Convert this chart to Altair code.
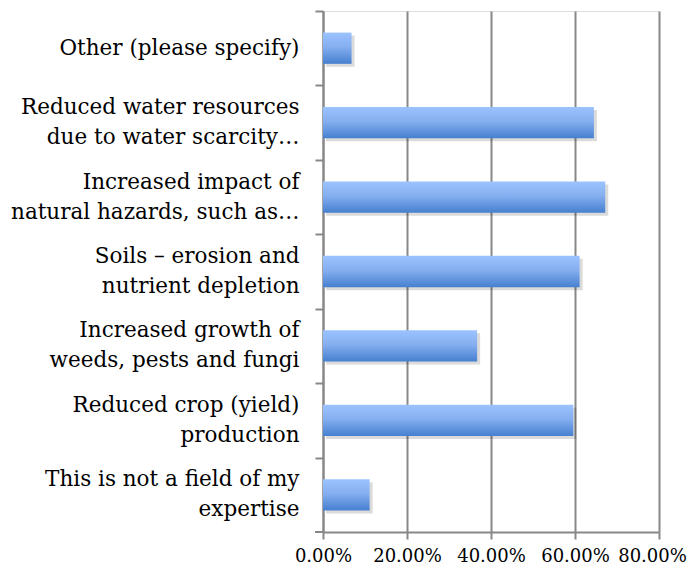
import altair as alt
import pandas as pd

categories = [
    "Other (please specify)",
    "Reduced water resources|due to water scarcity…",
    "Increased impact of|natural hazards, such as…",
    "Soils – erosion and|nutrient depletion",
    "Increased growth of|weeds, pests and fungi",
    "Reduced crop (yield)|production",
    "This is not a field of my|expertise",
]
values = [0.068, 0.645, 0.672, 0.611, 0.367, 0.596, 0.111]
x_ticks = [0, 0.2, 0.4, 0.6, 0.8]

df = pd.DataFrame({"category": categories, "value": values})

FONT = "DejaVu Serif"
GRAY = "#888888"
STEP = 521 / 7
LINE_H = 30

y_enc = alt.Y(
    "category:N",
    sort=categories,
    scale=alt.Scale(paddingInner=0.58, paddingOuter=0.29),
    axis=alt.Axis(
        title=None,
        labelExpr="split(datum.label, '|')",
        labelFont=FONT,
        labelFontSize=21.5,
        labelColor="#000000",
        labelAlign="right",
        labelBaseline="middle",
        labelLineHeight=LINE_H,
        labelPadding=16,
        tickOffset=-STEP / 2,
        labelOffset={
            "condition": {"test": "indexof(datum.value, '|') >= 0", "value": STEP / 2 - LINE_H / 2},
            "value": STEP / 2,
        },
        tickSize=8,
        tickColor=GRAY,
        tickWidth=2,
        domainColor=GRAY,
        domainWidth=2,
        grid=False,
        labelLimit=400,
    ),
)

x_enc = alt.X(
    "value:Q",
    scale=alt.Scale(domain=[0, 0.8], nice=False),
    axis=alt.Axis(
        title=None,
        format=".2%",
        values=x_ticks,
        labelFont=FONT,
        labelFontSize=18,
        labelColor="#000000",
        labelPadding=8,
        labelFlush=False,
        labelOverlap=False,
        labelOffset={"condition": {"test": "datum.value >= 0.8", "value": -7}, "value": 0},
        tickSize=7,
        tickColor=GRAY,
        tickWidth=2,
        domainColor=GRAY,
        domainWidth=2,
        grid=True,
        gridColor=GRAY,
        gridWidth=2,
    ),
)

shadow = alt.Chart(df).mark_bar(
    color="#000000", opacity=0.14, xOffset=3, yOffset=3
).encode(x=x_enc, y=y_enc)

bars = alt.Chart(df).mark_bar(
    color=alt.Gradient(
        gradient="linear",
        stops=[
            alt.GradientStop(color="#9CC3FF", offset=0),
            alt.GradientStop(color="#86AFF0", offset=0.45),
            alt.GradientStop(color="#4680D0", offset=1),
        ],
        x1=0, x2=0, y1=0, y2=1,
    )
).encode(x=x_enc, y=y_enc)

bottom_tick = alt.Chart(df).mark_rule(color=GRAY, strokeWidth=2).encode(
    x=alt.value(-8), x2=alt.value(0), y=alt.value(521)
)

chart = (
    alt.layer(shadow, bars, bottom_tick)
    .properties(
        width=336,
        height=521,
        autosize=alt.AutoSizeParams(type="none"),
        padding={"left": 315, "top": 3, "right": 28, "bottom": 32},
    )
    .configure_view(stroke=None)
    .configure(background="#ffffff")
)

chart.save("out.html", embed_options={"renderer": "svg", "actions": False})
